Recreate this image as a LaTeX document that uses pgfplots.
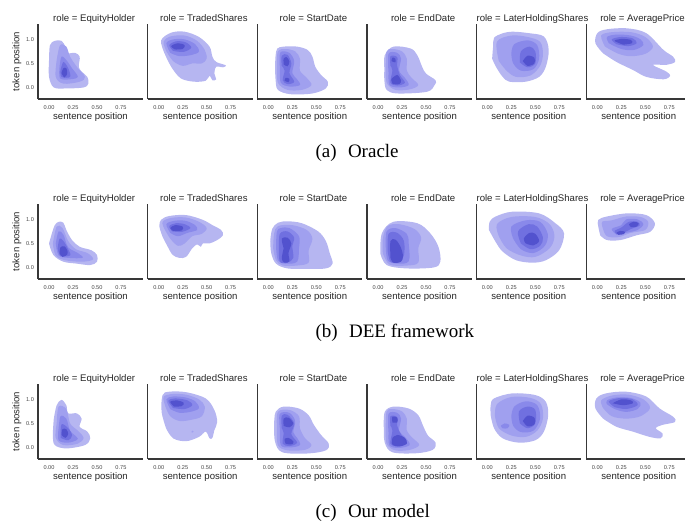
\documentclass[border=0pt]{standalone}
\usepackage{fontspec}
\setmainfont{Liberation Sans}
\newfontfamily\capfont{Liberation Serif}
\usepackage{pgfplots}
\pgfplotsset{compat=1.18}

\definecolor{k1}{RGB}{182,182,241}
\definecolor{k2}{RGB}{160,160,239}
\definecolor{k3}{RGB}{137,137,234}
\definecolor{k4}{RGB}{112,112,224}
\definecolor{k5}{RGB}{82,82,206}

\pgfplotsset{
  panel/.style={
    width=105pt, height=75pt, scale only axis,
    anchor=south west,
    xmin=-0.115, xmax=0.98, ymin=-0.24, ymax=1.32,
    axis x line*=bottom, axis y line*=left,
    axis line style={-, draw=black!78, line width=1.1pt},
    major tick length=0pt,
    xtick={0,0.25,0.5,0.75}, xticklabels={0.00,0.25,0.50,0.75},
    ytick=\empty,
    /pgf/number format/assume math mode=true,
    ticklabel style={font=\fontsize{5.6}{6}\selectfont, text=black!72},
    xticklabel style={anchor=center, yshift=-9pt},
    yticklabel style={anchor=center, xshift=-8pt},
    xlabel={sentence position},
    xlabel style={at={(axis description cs:0.5,-0.24)}, anchor=center,
      font=\fontsize{9.6}{11}\selectfont, text=black!85},
    title style={at={(axis description cs:0.535,1)}, anchor=base, yshift=-3.5pt,
      font=\fontsize{9.6}{11}\selectfont, text=black!85},
  },
  first/.style={
    ytick={0,0.5,1}, yticklabels={0.0,0.5,1.0},
    ylabel={token position},
    ylabel style={at={(axis description cs:-0.2,0.5)}, anchor=center,
      font=\fontsize{9.6}{11}\selectfont, text=black!85},
  },
}
% one filled density level
\newcommand{\kde}[2]{\addplot[draw=none, fill=k#1, smooth, tension=0.55] coordinates {#2};}

\begin{document}
\begin{tikzpicture}
\useasboundingbox (0,0) rectangle (685pt,-520pt);

%%%%% (a) Oracle
\begin{axis}[panel, first, at={(38pt,-99pt)}, title={role = EquityHolder}]
\kde{1}{(0.0,0.57)(0.01,0.88)(0.06,0.97)(0.13,0.97)(0.17,0.85)(0.18,0.71)(0.27,0.72)(0.32,0.64)(0.31,0.43)(0.34,0.33)(0.4,0.22)(0.41,0.08)(0.36,0.0)(0.18,-0.02)(0.05,0.0)(0.0,0.22)(0.0,0.57)}
\kde{2}{(0.08,0.57)(0.115,0.88)(0.18,0.85)(0.22,0.64)(0.29,0.43)(0.375,0.22)(0.32,0.12)(0.15,0.08)(0.07,0.22)(0.08,0.57)}
\kde{3}{(0.11,0.43)(0.13,0.64)(0.18,0.57)(0.24,0.4)(0.3,0.22)(0.22,0.17)(0.115,0.19)(0.11,0.43)}
\kde{4}{(0.12,0.36)(0.15,0.53)(0.2,0.4)(0.22,0.22)(0.13,0.22)(0.12,0.36)}
\kde{5}{(0.13,0.3)(0.15,0.4)(0.18,0.4)(0.19,0.29)(0.16,0.21)(0.13,0.3)}
\end{axis}

\begin{axis}[panel, at={(147.7pt,-99pt)}, title={role = TradedShares}]
\kde{1}{(0.06,0.71)(0.025,0.98)(0.13,1.14)(0.27,1.16)(0.42,1.05)(0.53,0.85)(0.56,0.64)(0.6,0.53)(0.7,0.46)(0.67,0.42)(0.6,0.43)(0.58,0.29)(0.6,0.17)(0.56,0.15)(0.53,0.24)(0.49,0.14)(0.37,0.12)(0.23,0.19)(0.13,0.43)(0.06,0.71)}
\kde{2}{(0.08,0.75)(0.05,0.95)(0.12,1.06)(0.27,1.08)(0.4,0.97)(0.48,0.78)(0.5,0.6)(0.45,0.5)(0.35,0.5)(0.25,0.45)(0.15,0.55)(0.08,0.75)}
\kde{3}{(0.12,0.72)(0.08,0.92)(0.15,1.0)(0.27,1.0)(0.38,0.9)(0.42,0.75)(0.35,0.68)(0.22,0.65)(0.12,0.72)}
\kde{4}{(0.15,0.76)(0.11,0.88)(0.18,0.96)(0.28,0.94)(0.34,0.83)(0.26,0.74)(0.15,0.76)}
\kde{5}{(0.17,0.79)(0.13,0.86)(0.2,0.92)(0.27,0.88)(0.25,0.8)(0.17,0.79)}
\end{axis}

\begin{axis}[panel, at={(257.3pt,-99pt)}, title={role = StartDate}]
\kde{1}{(0.07,0.43)(0.076,0.67)(0.094,0.81)(0.16,0.85)(0.3,0.85)(0.41,0.78)(0.46,0.64)(0.49,0.43)(0.55,0.26)(0.62,0.12)(0.6,-0.02)(0.46,-0.125)(0.23,-0.14)(0.1,-0.05)(0.076,0.15)(0.07,0.43)}
\kde{2}{(0.09,0.45)(0.1,0.75)(0.18,0.8)(0.28,0.75)(0.33,0.6)(0.33,0.35)(0.4,0.2)(0.45,0.05)(0.35,-0.05)(0.2,-0.05)(0.1,0.1)(0.09,0.45)}
\kde{3}{(0.12,0.4)(0.12,0.7)(0.15,0.75)(0.22,0.72)(0.27,0.55)(0.25,0.3)(0.3,0.17)(0.33,0.05)(0.22,0.02)(0.13,0.1)(0.12,0.4)}
\kde{4}{(0.14,0.45)(0.14,0.66)(0.2,0.68)(0.24,0.5)(0.22,0.3)(0.27,0.12)(0.2,0.07)(0.15,0.15)(0.17,0.35)(0.14,0.45)}
\kde{5}{(0.16,0.48)(0.16,0.6)(0.19,0.63)(0.22,0.54)(0.2,0.44)(0.16,0.48)}
\kde{5}{(0.17,0.14)(0.18,0.2)(0.22,0.18)(0.21,0.11)(0.17,0.14)}
\end{axis}

\begin{axis}[panel, at={(367pt,-99pt)}, title={role = EndDate}]
\kde{1}{(0.066,0.4)(0.07,0.67)(0.16,0.85)(0.34,0.81)(0.41,0.67)(0.46,0.43)(0.5,0.29)(0.6,0.15)(0.59,0.05)(0.51,-0.09)(0.2,-0.125)(0.09,-0.05)(0.066,0.15)(0.066,0.4)}
\kde{2}{(0.08,0.4)(0.09,0.75)(0.15,0.8)(0.25,0.75)(0.3,0.6)(0.3,0.35)(0.35,0.2)(0.42,0.05)(0.33,-0.04)(0.18,-0.05)(0.09,0.1)(0.08,0.4)}
\kde{3}{(0.11,0.3)(0.11,0.7)(0.2,0.72)(0.24,0.6)(0.22,0.35)(0.28,0.2)(0.32,0.05)(0.22,0.0)(0.12,0.05)(0.11,0.3)}
\kde{4}{(0.13,0.45)(0.13,0.65)(0.2,0.63)(0.2,0.45)(0.23,0.25)(0.28,0.1)(0.2,0.04)(0.13,0.1)(0.15,0.35)(0.13,0.45)}
\kde{5}{(0.14,0.55)(0.15,0.62)(0.18,0.6)(0.18,0.52)(0.14,0.55)}
\kde{5}{(0.14,0.18)(0.2,0.26)(0.24,0.14)(0.22,0.07)(0.15,0.08)(0.14,0.18)}
\end{axis}

\begin{axis}[panel, at={(476.3pt,-99pt)}, title={role = LaterHoldingShares}]
\kde{1}{(0.05,0.6)(0.06,0.85)(0.07,1.03)(0.15,1.12)(0.26,1.16)(0.43,1.13)(0.59,1.06)(0.64,0.78)(0.61,0.43)(0.54,0.22)(0.4,0.12)(0.23,0.12)(0.16,0.22)(0.09,0.43)(0.05,0.6)}
\kde{2}{(0.12,0.55)(0.1,0.95)(0.25,1.08)(0.42,1.05)(0.55,0.95)(0.58,0.7)(0.55,0.45)(0.45,0.25)(0.3,0.22)(0.2,0.35)(0.12,0.55)}
\kde{3}{(0.25,0.7)(0.28,0.9)(0.42,0.98)(0.52,0.88)(0.54,0.6)(0.48,0.38)(0.35,0.35)(0.27,0.5)(0.25,0.7)}
\kde{4}{(0.34,0.52)(0.35,0.75)(0.44,0.85)(0.5,0.75)(0.5,0.5)(0.42,0.42)(0.34,0.52)}
\kde{5}{(0.37,0.55)(0.42,0.66)(0.49,0.62)(0.49,0.5)(0.42,0.45)(0.37,0.55)}
\end{axis}

\begin{axis}[panel, at={(586.3pt,-99pt)}, title={role = AveragePrice}]
\kde{1}{(0.06,0.71)(-0.02,0.92)(0.0,1.13)(0.1,1.21)(0.31,1.23)(0.51,1.13)(0.69,0.78)(0.79,0.64)(0.81,0.53)(0.72,0.47)(0.58,0.47)(0.72,0.33)(0.76,0.24)(0.69,0.17)(0.51,0.22)(0.375,0.36)(0.2,0.53)(0.06,0.71)}
\kde{2}{(0.08,0.85)(0.04,1.08)(0.15,1.15)(0.35,1.15)(0.5,1.05)(0.58,0.85)(0.5,0.7)(0.35,0.65)(0.22,0.7)(0.08,0.85)}
\kde{3}{(0.12,0.92)(0.1,1.05)(0.2,1.1)(0.35,1.08)(0.45,1.0)(0.48,0.88)(0.38,0.78)(0.25,0.8)(0.12,0.92)}
\kde{4}{(0.2,0.9)(0.15,1.0)(0.25,1.05)(0.37,1.02)(0.41,0.92)(0.32,0.86)(0.2,0.9)}
\kde{5}{(0.27,0.89)(0.18,0.97)(0.25,1.01)(0.35,0.99)(0.36,0.92)(0.27,0.89)}
\end{axis}

%%%%% (b) DEE framework
\begin{axis}[panel, first, at={(38pt,-279pt)}, title={role = EquityHolder}]
\kde{1}{(0.0,0.5)(0.03,0.71)(0.06,0.88)(0.1,0.95)(0.15,0.93)(0.18,0.78)(0.24,0.57)(0.32,0.43)(0.44,0.36)(0.5,0.26)(0.5,0.12)(0.43,0.05)(0.29,0.08)(0.15,0.12)(0.045,0.26)(0.0,0.5)}
\kde{2}{(0.04,0.5)(0.08,0.85)(0.14,0.82)(0.2,0.55)(0.28,0.38)(0.4,0.3)(0.46,0.17)(0.35,0.12)(0.17,0.15)(0.07,0.25)(0.04,0.5)}
\kde{3}{(0.07,0.5)(0.1,0.75)(0.15,0.68)(0.2,0.42)(0.3,0.3)(0.35,0.2)(0.2,0.2)(0.1,0.25)(0.07,0.5)}
\kde{4}{(0.09,0.4)(0.11,0.6)(0.15,0.55)(0.2,0.38)(0.22,0.25)(0.12,0.24)(0.09,0.4)}
\kde{5}{(0.11,0.3)(0.12,0.42)(0.16,0.44)(0.19,0.36)(0.19,0.27)(0.14,0.22)(0.11,0.3)}
\end{axis}

\begin{axis}[panel, at={(147.7pt,-279pt)}, title={role = TradedShares}]
\kde{1}{(0.04,0.64)(0.007,0.85)(0.024,0.99)(0.11,1.07)(0.285,1.09)(0.46,0.99)(0.56,0.88)(0.65,0.78)(0.67,0.67)(0.61,0.57)(0.53,0.5)(0.46,0.5)(0.44,0.43)(0.4,0.48)(0.35,0.4)(0.285,0.22)(0.215,0.2)(0.146,0.26)(0.094,0.43)(0.04,0.64)}
\kde{2}{(0.06,0.8)(0.04,0.95)(0.13,1.03)(0.28,1.04)(0.42,0.95)(0.5,0.82)(0.45,0.7)(0.35,0.65)(0.27,0.5)(0.2,0.45)(0.12,0.6)(0.06,0.8)}
\kde{3}{(0.12,0.72)(0.08,0.9)(0.16,0.97)(0.28,0.97)(0.38,0.88)(0.4,0.78)(0.3,0.72)(0.2,0.65)(0.12,0.72)}
\kde{4}{(0.14,0.75)(0.11,0.86)(0.18,0.92)(0.27,0.9)(0.33,0.82)(0.24,0.74)(0.14,0.75)}
\kde{5}{(0.15,0.76)(0.12,0.82)(0.17,0.88)(0.25,0.85)(0.24,0.77)(0.15,0.76)}
\end{axis}

\begin{axis}[panel, at={(257.3pt,-279pt)}, title={role = StartDate}]
\kde{1}{(0.02,0.55)(0.04,0.8)(0.1,0.93)(0.2,0.96)(0.35,0.92)(0.52,0.75)(0.6,0.55)(0.64,0.3)(0.67,0.08)(0.6,-0.02)(0.4,-0.03)(0.2,-0.02)(0.08,0.08)(0.03,0.3)(0.02,0.55)}
\kde{2}{(0.05,0.4)(0.06,0.7)(0.1,0.86)(0.25,0.88)(0.4,0.78)(0.46,0.6)(0.42,0.35)(0.42,0.1)(0.3,0.04)(0.15,0.04)(0.08,0.15)(0.05,0.4)}
\kde{3}{(0.08,0.45)(0.09,0.75)(0.13,0.82)(0.22,0.82)(0.32,0.65)(0.32,0.4)(0.3,0.12)(0.18,0.08)(0.1,0.15)(0.08,0.45)}
\kde{4}{(0.11,0.4)(0.12,0.7)(0.2,0.75)(0.27,0.62)(0.25,0.45)(0.26,0.2)(0.2,0.1)(0.12,0.12)(0.11,0.4)}
\kde{5}{(0.16,0.4)(0.14,0.6)(0.2,0.62)(0.24,0.5)(0.21,0.3)(0.22,0.13)(0.17,0.1)(0.14,0.18)(0.16,0.4)}
\end{axis}

\begin{axis}[panel, at={(367pt,-279pt)}, title={role = EndDate}]
\kde{1}{(0.024,0.29)(0.04,0.71)(0.16,0.95)(0.41,0.92)(0.545,0.71)(0.63,0.43)(0.65,0.12)(0.58,0.0)(0.3,-0.02)(0.09,0.05)(0.024,0.29)}
\kde{2}{(0.05,0.3)(0.05,0.6)(0.1,0.86)(0.22,0.9)(0.38,0.8)(0.45,0.62)(0.42,0.4)(0.42,0.1)(0.3,0.04)(0.12,0.06)(0.05,0.3)}
\kde{3}{(0.08,0.45)(0.09,0.75)(0.18,0.82)(0.3,0.7)(0.32,0.5)(0.32,0.13)(0.2,0.08)(0.1,0.15)(0.08,0.45)}
\kde{4}{(0.1,0.35)(0.11,0.7)(0.2,0.72)(0.27,0.55)(0.27,0.25)(0.22,0.12)(0.13,0.12)(0.1,0.35)}
\kde{5}{(0.13,0.2)(0.13,0.55)(0.18,0.58)(0.23,0.45)(0.26,0.25)(0.24,0.12)(0.16,0.1)(0.13,0.2)}
\end{axis}

\begin{axis}[panel, at={(476.3pt,-279pt)}, title={role = LaterHoldingShares}]
\kde{1}{(0.017,0.78)(0.024,0.95)(0.087,1.06)(0.26,1.16)(0.54,1.125)(0.71,0.92)(0.8,0.71)(0.75,0.36)(0.61,0.15)(0.47,0.1)(0.3,0.15)(0.16,0.33)(0.087,0.53)(0.017,0.78)}
\kde{2}{(0.12,0.65)(0.1,0.9)(0.25,1.05)(0.5,1.05)(0.65,0.9)(0.7,0.65)(0.65,0.4)(0.5,0.22)(0.35,0.25)(0.2,0.4)(0.12,0.65)}
\kde{3}{(0.27,0.6)(0.25,0.85)(0.4,0.98)(0.55,0.95)(0.63,0.7)(0.6,0.45)(0.48,0.3)(0.35,0.38)(0.27,0.6)}
\kde{4}{(0.35,0.5)(0.32,0.75)(0.43,0.9)(0.52,0.85)(0.58,0.62)(0.55,0.45)(0.45,0.38)(0.35,0.5)}
\kde{5}{(0.4,0.5)(0.38,0.6)(0.44,0.72)(0.5,0.7)(0.54,0.55)(0.48,0.46)(0.4,0.5)}
\end{axis}

\begin{axis}[panel, at={(586.3pt,-279pt)}, title={role = AveragePrice}]
\kde{1}{(0.03,0.67)(0.01,0.85)(0.01,0.99)(0.1,1.06)(0.31,1.125)(0.51,1.09)(0.6,0.92)(0.55,0.74)(0.41,0.67)(0.24,0.57)(0.1,0.57)(0.03,0.67)}
\kde{2}{(0.06,0.8)(0.05,0.95)(0.15,0.98)(0.3,1.06)(0.45,1.05)(0.53,0.95)(0.5,0.78)(0.35,0.72)(0.22,0.63)(0.1,0.65)(0.06,0.8)}
\kde{3}{(0.2,0.68)(0.15,0.8)(0.25,0.88)(0.3,1.0)(0.42,1.0)(0.48,0.9)(0.42,0.78)(0.3,0.72)(0.2,0.68)}
\kde{4}{(0.2,0.7)(0.18,0.76)(0.25,0.83)(0.33,0.95)(0.42,0.95)(0.44,0.87)(0.35,0.8)(0.27,0.72)(0.2,0.7)}
\kde{5}{(0.35,0.84)(0.33,0.9)(0.38,0.95)(0.43,0.92)(0.41,0.85)(0.35,0.84)}
\kde{5}{(0.22,0.68)(0.2,0.72)(0.24,0.76)(0.29,0.74)(0.27,0.69)(0.22,0.68)}
\end{axis}

%%%%% (c) Our model
\begin{axis}[panel, first, at={(38pt,-459pt)}, title={role = EquityHolder}]
\kde{1}{(0.05,0.6)(0.08,0.88)(0.13,0.99)(0.18,0.88)(0.2,0.71)(0.29,0.71)(0.34,0.6)(0.32,0.43)(0.4,0.33)(0.43,0.19)(0.375,0.05)(0.18,-0.02)(0.06,0.05)(0.04,0.26)(0.05,0.6)}
\kde{2}{(0.08,0.5)(0.1,0.85)(0.18,0.8)(0.22,0.5)(0.3,0.35)(0.36,0.2)(0.3,0.08)(0.15,0.05)(0.07,0.2)(0.08,0.5)}
\kde{3}{(0.1,0.4)(0.12,0.65)(0.18,0.6)(0.22,0.35)(0.3,0.18)(0.2,0.1)(0.1,0.15)(0.1,0.4)}
\kde{4}{(0.12,0.2)(0.13,0.48)(0.2,0.4)(0.24,0.25)(0.2,0.15)(0.12,0.2)}
\kde{5}{(0.13,0.26)(0.14,0.38)(0.18,0.38)(0.2,0.28)(0.17,0.2)(0.13,0.26)}
\end{axis}

\begin{axis}[panel, at={(147.7pt,-459pt)}, title={role = TradedShares}]
\kde{1}{(0.076,0.4)(0.03,0.74)(0.04,1.09)(0.11,1.16)(0.285,1.15)(0.49,1.02)(0.58,0.78)(0.61,0.53)(0.58,0.36)(0.56,0.2)(0.53,0.19)(0.49,0.33)(0.42,0.22)(0.285,0.13)(0.15,0.19)(0.076,0.4)}
\kde{2}{(0.34,0.32)(0.35,0.35)(0.365,0.33)(0.35,0.31)(0.34,0.32)}
\kde{2}{(0.07,0.85)(0.05,1.05)(0.13,1.11)(0.28,1.1)(0.42,1.0)(0.48,0.85)(0.45,0.65)(0.35,0.58)(0.22,0.55)(0.12,0.65)(0.07,0.85)}
\kde{3}{(0.12,0.8)(0.08,1.0)(0.15,1.06)(0.28,1.04)(0.38,0.96)(0.42,0.82)(0.35,0.75)(0.22,0.72)(0.12,0.8)}
\kde{4}{(0.15,0.82)(0.1,0.97)(0.17,1.02)(0.3,0.98)(0.35,0.88)(0.27,0.8)(0.15,0.82)}
\kde{5}{(0.16,0.85)(0.12,0.95)(0.19,0.98)(0.26,0.93)(0.24,0.86)(0.16,0.85)}
\end{axis}

\begin{axis}[panel, at={(257.3pt,-459pt)}, title={role = StartDate}]
\kde{1}{(0.06,0.47)(0.076,0.74)(0.16,0.85)(0.32,0.81)(0.42,0.67)(0.475,0.47)(0.55,0.26)(0.63,0.08)(0.6,-0.06)(0.41,-0.125)(0.146,-0.1)(0.07,0.12)(0.06,0.47)}
\kde{2}{(0.09,0.4)(0.1,0.74)(0.22,0.78)(0.32,0.65)(0.33,0.4)(0.38,0.2)(0.45,0.05)(0.38,-0.05)(0.2,-0.06)(0.1,0.05)(0.09,0.4)}
\kde{3}{(0.12,0.4)(0.12,0.7)(0.22,0.72)(0.28,0.55)(0.26,0.32)(0.3,0.2)(0.33,0.05)(0.22,0.0)(0.13,0.05)(0.12,0.4)}
\kde{4}{(0.14,0.4)(0.14,0.66)(0.2,0.68)(0.27,0.5)(0.24,0.28)(0.3,0.1)(0.22,0.03)(0.15,0.08)(0.16,0.3)(0.14,0.4)}
\kde{5}{(0.16,0.45)(0.16,0.6)(0.21,0.62)(0.26,0.5)(0.22,0.42)(0.16,0.45)}
\kde{5}{(0.17,0.18)(0.21,0.2)(0.26,0.13)(0.25,0.07)(0.18,0.08)(0.17,0.18)}
\end{axis}

\begin{axis}[panel, at={(367pt,-459pt)}, title={role = EndDate}]
\kde{1}{(0.06,0.4)(0.07,0.74)(0.16,0.85)(0.32,0.81)(0.42,0.67)(0.47,0.45)(0.52,0.25)(0.6,0.1)(0.57,-0.05)(0.4,-0.12)(0.15,-0.1)(0.07,0.1)(0.06,0.4)}
\kde{2}{(0.08,0.4)(0.09,0.75)(0.15,0.8)(0.25,0.75)(0.3,0.6)(0.3,0.35)(0.36,0.2)(0.43,0.05)(0.33,-0.05)(0.18,-0.06)(0.09,0.08)(0.08,0.4)}
\kde{3}{(0.11,0.3)(0.11,0.7)(0.2,0.72)(0.24,0.6)(0.22,0.35)(0.29,0.2)(0.33,0.05)(0.22,-0.01)(0.12,0.04)(0.11,0.3)}
\kde{4}{(0.13,0.45)(0.13,0.65)(0.2,0.63)(0.2,0.45)(0.24,0.27)(0.3,0.1)(0.2,0.02)(0.13,0.08)(0.15,0.35)(0.13,0.45)}
\kde{5}{(0.15,0.52)(0.15,0.64)(0.2,0.62)(0.2,0.52)(0.15,0.52)}
\kde{5}{(0.15,0.2)(0.2,0.26)(0.28,0.2)(0.3,0.08)(0.22,0.02)(0.15,0.06)(0.15,0.2)}
\end{axis}

\begin{axis}[panel, at={(476.3pt,-459pt)}, title={role = LaterHoldingShares}]
\kde{1}{(0.035,0.67)(0.035,0.88)(0.07,1.02)(0.26,1.125)(0.5,1.09)(0.61,0.95)(0.635,0.67)(0.59,0.33)(0.5,0.15)(0.33,0.1)(0.16,0.19)(0.07,0.4)(0.035,0.67)}
\kde{2}{(0.08,0.65)(0.1,0.9)(0.25,1.05)(0.45,1.03)(0.56,0.9)(0.58,0.6)(0.52,0.35)(0.4,0.22)(0.25,0.25)(0.12,0.4)(0.08,0.65)}
\kde{3}{(0.25,0.65)(0.28,0.85)(0.4,0.96)(0.52,0.88)(0.55,0.6)(0.48,0.35)(0.35,0.32)(0.27,0.45)(0.25,0.65)}
\kde{3}{(0.14,0.45)(0.18,0.5)(0.23,0.47)(0.21,0.4)(0.16,0.4)(0.14,0.45)}
\kde{4}{(0.34,0.5)(0.33,0.75)(0.42,0.85)(0.5,0.78)(0.5,0.5)(0.42,0.4)(0.34,0.5)}
\kde{5}{(0.37,0.55)(0.42,0.66)(0.49,0.62)(0.49,0.48)(0.42,0.44)(0.37,0.55)}
\end{axis}

\begin{axis}[panel, at={(586.3pt,-459pt)}, title={role = AveragePrice}]
\kde{1}{(0.06,0.6)(-0.02,0.81)(-0.01,1.02)(0.09,1.125)(0.3,1.16)(0.51,1.06)(0.65,0.81)(0.79,0.64)(0.81,0.53)(0.68,0.47)(0.61,0.4)(0.68,0.29)(0.66,0.19)(0.545,0.22)(0.37,0.33)(0.2,0.43)(0.06,0.6)}
\kde{2}{(0.06,0.82)(0.04,0.98)(0.15,1.08)(0.32,1.1)(0.48,1.0)(0.55,0.82)(0.45,0.65)(0.3,0.6)(0.15,0.65)(0.06,0.82)}
\kde{3}{(0.1,0.9)(0.1,0.98)(0.2,1.04)(0.35,1.03)(0.45,0.93)(0.42,0.8)(0.3,0.74)(0.18,0.8)(0.1,0.9)}
\kde{4}{(0.18,0.84)(0.12,0.96)(0.24,1.03)(0.37,1.0)(0.42,0.88)(0.3,0.8)(0.18,0.84)}
\kde{5}{(0.16,0.92)(0.25,1.0)(0.35,0.98)(0.37,0.92)(0.27,0.88)(0.16,0.92)}
\end{axis}

%%%%% captions
\node[anchor=base west, font=\capfont\fontsize{19}{22}\selectfont] at (312pt,-157.7pt) {(a)\hspace{0.6em}Oracle};
\node[anchor=base west, font=\capfont\fontsize{19}{22}\selectfont] at (312pt,-337.7pt) {(b)\hspace{0.6em}DEE framework};
\node[anchor=base west, font=\capfont\fontsize{19}{22}\selectfont] at (312pt,-517pt) {(c)\hspace{0.6em}Our model};
\end{tikzpicture}
\end{document}
